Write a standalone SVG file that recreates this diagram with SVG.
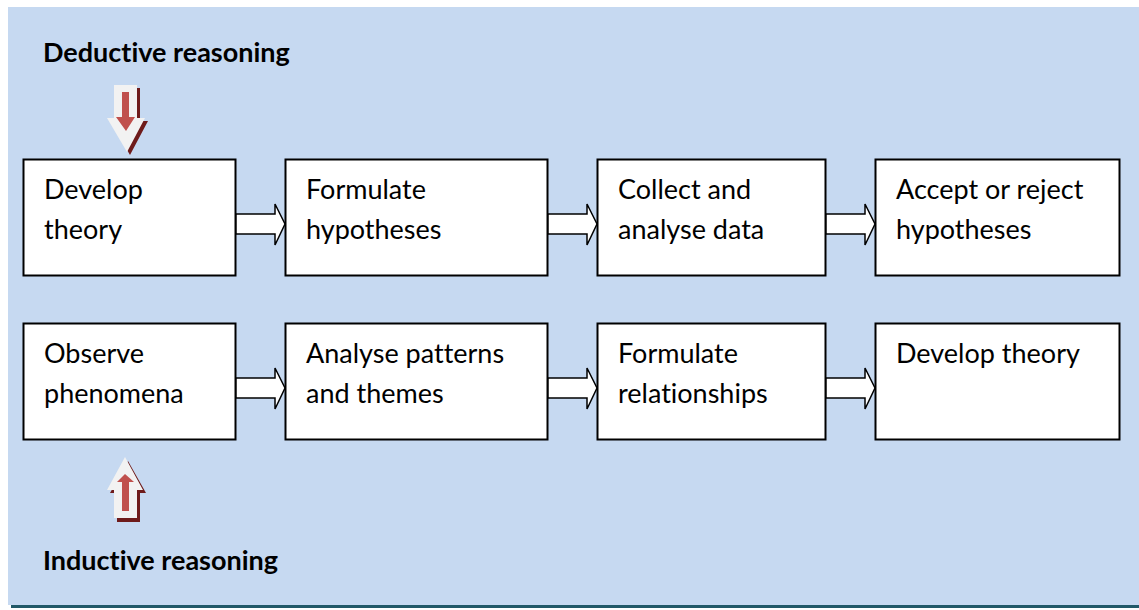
<svg xmlns="http://www.w3.org/2000/svg" width="1139" height="610" viewBox="0 0 1139 610">
<style>
.box{fill:#fff;stroke:#000;stroke-width:2}
.t{font-family:Lato,"Open Sans",sans-serif;font-size:27px;fill:#000;font-variant-ligatures:none}
.h{font-family:Lato,"Open Sans",sans-serif;font-size:27px;font-weight:bold;fill:#000;font-variant-ligatures:none}
.ba{fill:#fff;stroke:#000;stroke-width:1.5}
.sh{fill:#6E1B1B}
.wa{fill:#F2F2F2}
.ra{fill:#C0504D}
</style>
<rect x="8" y="7" width="1131" height="598" fill="#C6D9F1"/>
<rect x="11" y="605" width="1128" height="3" fill="#215968"/>
<text class="h" x="43" y="62">Deductive reasoning</text>
<text class="h" x="43" y="570">Inductive reasoning</text>
<g id="deductive-arrow">
<polygon class="sh" points="117,88 140,88 140,121 148,121 130,155 110,121 117,121"/>
<polygon class="wa" points="114,85 137,85 137,118 145,118 127,152 107,118 114,118"/>
<polygon class="ra" points="122,92 129,92 129,117 135,117 126,131 116,117 122,117"/>
</g>
<g id="inductive-arrow">
<polygon class="sh" points="128,461 146,493 140,493 140,522 117,522 117,493 110,493"/>
<polygon class="wa" points="125,457 143,490 137,490 137,518 114,518 114,490 107,490"/>
<polygon class="ra" points="125,474 134,482 129,482 129,511 122,511 122,482 117,482"/>
</g>
<g id="n1"><rect class="box" x="23.5" y="159.5" width="212" height="116"/><text class="t" x="44" y="199">Develop</text><text class="t" x="44" y="239">theory</text></g>
<g id="n2"><rect class="box" x="285.5" y="159.5" width="262" height="116"/><text class="t" x="306" y="199">Formulate</text><text class="t" x="306" y="239">hypotheses</text></g>
<g id="n3"><rect class="box" x="597.5" y="159.5" width="228" height="116"/><text class="t" x="618" y="199">Collect and</text><text class="t" x="618" y="239">analyse data</text></g>
<g id="n4"><rect class="box" x="875.5" y="159.5" width="244" height="116"/><text class="t" x="896" y="199">Accept or reject</text><text class="t" x="896" y="239">hypotheses</text></g>
<g id="n5"><rect class="box" x="23.5" y="323.5" width="212" height="116"/><text class="t" x="44" y="363">Observe</text><text class="t" x="44" y="403">phenomena</text></g>
<g id="n6"><rect class="box" x="285.5" y="323.5" width="262" height="116"/><text class="t" x="306" y="363">Analyse patterns</text><text class="t" x="306" y="403">and themes</text></g>
<g id="n7"><rect class="box" x="597.5" y="323.5" width="228" height="116"/><text class="t" x="618" y="363">Formulate</text><text class="t" x="618" y="403">relationships</text></g>
<g id="n8"><rect class="box" x="875.5" y="323.5" width="244" height="116"/><text class="t" x="896" y="363">Develop theory</text></g>
<g id="connectors">
<polygon class="ba" points="236,214 275,214 275,204 285,224 275,245 275,234 236,234"/>
<polygon class="ba" points="548,214 587,214 587,204 597,224 587,245 587,234 548,234"/>
<polygon class="ba" points="826,214 865,214 865,204 875,224 865,245 865,234 826,234"/>
<polygon class="ba" points="236,378 275,378 275,368 285,388 275,409 275,398 236,398"/>
<polygon class="ba" points="548,378 587,378 587,368 597,388 587,409 587,398 548,398"/>
<polygon class="ba" points="826,378 865,378 865,368 875,388 865,409 865,398 826,398"/>
</g>
</svg>
